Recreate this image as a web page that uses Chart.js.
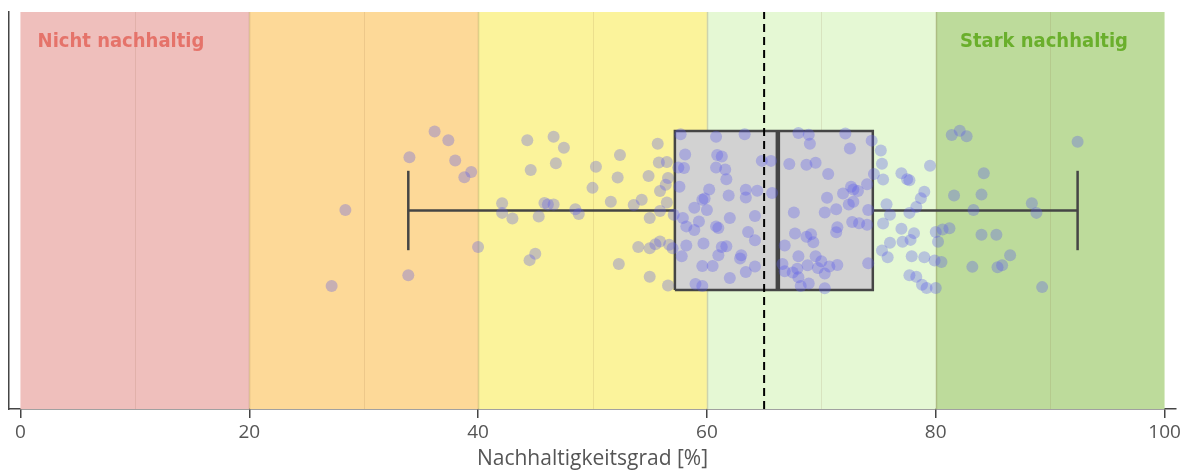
<!DOCTYPE html>
<html lang="de">
<head>
  <meta charset="UTF-8" />
  <title>Nachhaltigkeitsgrad</title>
  <script src="https://cdn.jsdelivr.net/npm/chart.js@4"></script>
  <style>
    html, body { margin: 0; padding: 0; background: #fff; }
    #wrap { width: 1184px; height: 472px; }
  </style>
</head>
<body>
  <div id="wrap"><canvas id="chart"></canvas></div>

  <script>
    // Zones along the x axis
    const bandEdges = [0, 20, 40, 60, 80, 100];
    const bandColors = ['#efbfbc', '#fdd998', '#fbf39b', '#e5f8d4', '#bddb9b'];
    const gridValues = [10, 20, 30, 40, 50, 60, 70, 80, 90];
    const tickValues = [0, 20, 40, 60, 80, 100];
    const zoneLabels = ['Nicht nachhaltig', 'Stark nachhaltig'];

    // Box plot summary
    const whiskerLow = 33.9;
    const q1 = 57.2;
    const median = 66.2;
    const q3 = 74.5;
    const whiskerHigh = 92.4;
    const referenceLine = 65;

    // Individual results (x) and their vertical jitter (0..1)
    const scores = [
      36.2, 37.4, 34.0, 38.0, 39.4, 38.8, 28.4, 40.0, 33.9, 27.2,
      44.3, 46.6, 47.5, 44.6, 46.8, 50.3, 52.4, 52.2, 55.7, 55.8, 56.5, 54.9, 56.6, 56.4, 55.9,
      50.0, 42.1, 42.1, 43.0, 45.3, 45.8, 46.1, 46.6, 48.5, 48.8, 51.6, 53.6, 54.3, 55.0, 55.9,
      56.5, 57.1, 45.0, 44.5, 54.0, 55.0, 55.5, 55.9, 56.7, 57.0, 52.3, 55.0, 56.6,
      57.7, 60.8, 63.3, 58.1, 60.9, 61.3, 57.5, 58.0, 60.8, 61.6, 61.7, 64.8, 65.6, 57.6, 60.2,
      61.9, 63.4, 63.4, 64.4, 65.7, 59.8, 59.6, 58.9, 60.0, 57.9, 59.3, 62.0, 64.2, 58.2, 58.9,
      60.8, 61.0, 63.6, 64.2, 59.7, 58.2, 61.3, 61.7, 61.0, 57.8, 63.0, 62.9, 59.6, 60.5, 64.2,
      63.4, 62.0, 59.0, 59.6,
      68.0, 68.9, 69.0, 72.1, 72.5, 74.4, 75.2, 67.2, 68.7, 69.5, 70.6, 75.3, 74.6, 75.4, 74.0,
      72.6, 72.8, 73.2, 71.9, 70.5, 72.4, 72.8, 71.3, 70.3, 67.6, 74.1, 75.7, 76.0, 75.4, 72.7,
      73.3, 74.0, 71.4, 71.3, 67.7, 68.7, 69.1, 69.3, 66.8, 76.0, 75.3, 75.8, 68.0, 69.5, 70.0,
      66.6, 68.8, 69.7, 70.7, 71.4, 74.1, 66.8, 67.5, 67.9, 70.3, 68.0, 68.2, 68.9, 70.3,
      79.5, 77.0, 77.5, 77.7, 79.0, 78.7, 78.3, 77.7, 77.0, 78.1, 77.8, 77.1, 77.9, 79.0, 79.9,
      80.5, 80.0, 80.6, 81.2, 80.2, 77.7, 78.3, 78.8, 79.2, 80.0, 81.4, 82.1, 82.7, 84.2, 81.6,
      84.0, 83.3, 88.4, 88.8, 84.0, 85.3, 86.5, 85.8, 85.4, 83.2, 89.3, 92.4
    ];
    const jitter = [
      0.699, 0.677, 0.634, 0.626, 0.597, 0.584, 0.501, 0.408, 0.337, 0.310,
      0.677, 0.686, 0.658, 0.602, 0.619, 0.610, 0.640, 0.583, 0.668, 0.621, 0.622, 0.587, 0.582, 0.565, 0.549,
      0.557, 0.518, 0.494, 0.480, 0.485, 0.519, 0.515, 0.515, 0.503, 0.491, 0.522, 0.514, 0.527, 0.481, 0.499,
      0.520, 0.489, 0.391, 0.375, 0.408, 0.405, 0.415, 0.422, 0.414, 0.405, 0.365, 0.333, 0.311,
      0.692, 0.686, 0.692, 0.641, 0.640, 0.636, 0.608, 0.607, 0.608, 0.603, 0.579, 0.625, 0.625, 0.560, 0.553,
      0.538, 0.552, 0.533, 0.550, 0.544, 0.530, 0.527, 0.507, 0.501, 0.481, 0.472, 0.481, 0.486, 0.460, 0.451,
      0.460, 0.456, 0.446, 0.425, 0.417, 0.412, 0.408, 0.410, 0.387, 0.385, 0.387, 0.379, 0.360, 0.360, 0.359,
      0.345, 0.330, 0.315, 0.310,
      0.695, 0.691, 0.668, 0.694, 0.656, 0.676, 0.651, 0.617, 0.615, 0.620, 0.592, 0.618, 0.592, 0.578, 0.566,
      0.560, 0.553, 0.549, 0.543, 0.532, 0.515, 0.522, 0.503, 0.495, 0.495, 0.501, 0.516, 0.489, 0.467, 0.471,
      0.468, 0.464, 0.458, 0.445, 0.442, 0.434, 0.440, 0.420, 0.412, 0.419, 0.399, 0.382, 0.385, 0.385, 0.372,
      0.365, 0.362, 0.355, 0.359, 0.363, 0.367, 0.347, 0.344, 0.353, 0.341, 0.332, 0.310, 0.316, 0.304,
      0.613, 0.594, 0.579, 0.576, 0.547, 0.531, 0.509, 0.494, 0.454, 0.443, 0.426, 0.421, 0.385, 0.382, 0.374,
      0.370, 0.446, 0.452, 0.455, 0.421, 0.337, 0.333, 0.313, 0.305, 0.305, 0.690, 0.701, 0.687, 0.594, 0.538,
      0.540, 0.501, 0.518, 0.494, 0.439, 0.439, 0.387, 0.362, 0.357, 0.358, 0.307, 0.673
    ];

    const boxBottom = 0.3, boxTop = 0.7, boxMid = 0.5;
    const capLow = 0.4, capHigh = 0.6;
    const lineColor = '#454545';

    // colored zones, thin lines and zone captions behind the data
    const zonePlugin = {
      id: 'zones',
      beforeDatasetsDraw(chart) {
        const { ctx, chartArea, scales: { x } } = chart;
        const h = chartArea.bottom - chartArea.top;
        ctx.save();
        for (let i = 0; i < bandColors.length; i++) {
          const x0 = x.getPixelForValue(bandEdges[i]);
          const x1 = x.getPixelForValue(bandEdges[i + 1]);
          ctx.fillStyle = bandColors[i];
          ctx.fillRect(x0, chartArea.top, x1 - x0, h);
        }
        gridValues.forEach(v => {
          const px = Math.round(x.getPixelForValue(v)) + 0.5;
          ctx.strokeStyle = v % 20 === 0 ? 'rgba(120,80,40,0.22)' : 'rgba(120,80,40,0.12)';
          ctx.lineWidth = v % 20 === 0 ? 1.5 : 1;
          ctx.beginPath();
          ctx.moveTo(px, chartArea.top);
          ctx.lineTo(px, chartArea.bottom);
          ctx.stroke();
        });
        ctx.font = 'bold 20px "DejaVu Sans Condensed", "DejaVu Sans", sans-serif';
        ctx.textBaseline = 'alphabetic';
        ctx.textAlign = 'left';
        ctx.fillStyle = '#e5736a';
        ctx.fillText(zoneLabels[0], x.getPixelForValue(1.5), chartArea.top + 35);
        ctx.textAlign = 'right';
        ctx.fillStyle = '#6aaf2c';
        ctx.fillText(zoneLabels[1], x.getPixelForValue(96.8), chartArea.top + 35);
        ctx.restore();
      }
    };

    const seg = (a, b) => [{ x: a[0], y: a[1] }, { x: b[0], y: b[1] }];
    const lineSet = (data, width, order, extra) => Object.assign({
      type: 'line', data, borderColor: lineColor, borderWidth: width,
      pointRadius: 0, fill: false, order
    }, extra || {});

    new Chart(document.getElementById('chart'), {
      type: 'scatter',
      data: {
        datasets: [
          // reference line
          lineSet(seg([referenceLine, 0], [referenceLine, 1]), 2, 0,
            { borderColor: '#000', borderDash: [8, 5] }),
          // individual points
          {
            type: 'scatter',
            data: scores.map((v, i) => ({ x: v, y: jitter[i] })),
            backgroundColor: 'rgba(90,90,235,0.33)',
            borderWidth: 0,
            pointRadius: 6,
            order: 1
          },
          // box outline
          lineSet([
            { x: q1, y: boxBottom }, { x: q3, y: boxBottom }, { x: q3, y: boxTop },
            { x: q1, y: boxTop }, { x: q1, y: boxBottom }
          ], 2.5, 2),
          // median
          lineSet(seg([median, boxBottom], [median, boxTop]), 4.5, 2),
          // whiskers and caps
          lineSet(seg([whiskerLow, boxMid], [q1, boxMid]), 2.5, 2),
          lineSet(seg([q3, boxMid], [whiskerHigh, boxMid]), 2.5, 2),
          lineSet(seg([whiskerLow, capLow], [whiskerLow, capHigh]), 2.5, 2),
          lineSet(seg([whiskerHigh, capLow], [whiskerHigh, capHigh]), 2.5, 2),
          // box fill
          lineSet(seg([q1, boxTop], [q3, boxTop]), 0, 3,
            { fill: { value: boxBottom }, backgroundColor: '#d2d2d2' })
        ]
      },
      options: {
        responsive: true,
        maintainAspectRatio: false,
        animation: false,
        layout: { padding: { left: 9, right: 8, top: 12, bottom: 0 } },
        plugins: {
          legend: { display: false },
          tooltip: { enabled: false }
        },
        scales: {
          x: {
            type: 'linear',
            min: -1,
            max: 101,
            afterBuildTicks: scale => { scale.ticks = tickValues.map(v => ({ value: v })); },
            ticks: {
              color: '#555',
              font: { family: '"Open Sans", sans-serif', size: 19 },
              padding: 3,
              maxRotation: 0,
              autoSkip: false
            },
            grid: { drawOnChartArea: false, drawTicks: true, tickLength: 9, color: lineColor, lineWidth: 1.5 },
            border: { display: true, color: lineColor, width: 1.5 },
            title: {
              display: true,
              text: 'Nachhaltigkeitsgrad [%]',
              color: '#555',
              font: { family: '"Open Sans", sans-serif', size: 21 },
              padding: { top: 0, bottom: 0 }
            }
          },
          y: {
            type: 'linear',
            min: 0,
            max: 1,
            ticks: { display: false },
            grid: { display: false, drawTicks: false },
            border: { display: true, color: lineColor, width: 1.5 }
          }
        }
      },
      plugins: [zonePlugin]
    });
  </script>
</body>
</html>
